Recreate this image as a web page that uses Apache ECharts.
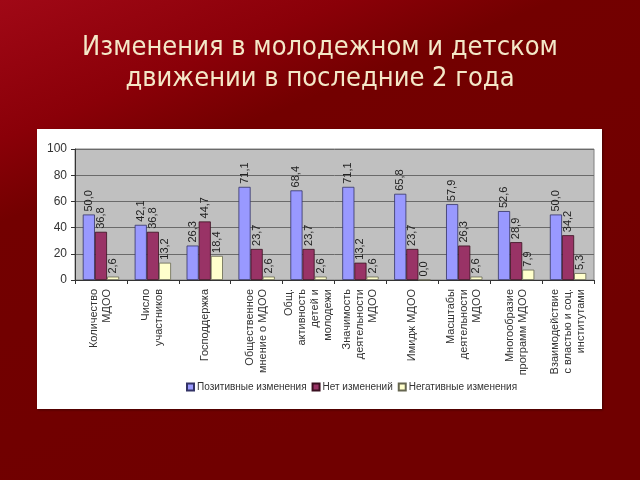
<!DOCTYPE html>
<html><head><meta charset="utf-8">
<script src="https://cdn.jsdelivr.net/npm/echarts@6/dist/echarts.min.js"></script>
<style>html,body{margin:0;padding:0;background:#700000}#c{width:640px;height:480px}</style>
</head><body><div id="c"></div>
<script>
const categories = [
  'Количество\nМДОО',
  'Число\nучастников',
  'Господдержка',
  'Общественное\nмнение о МДОО',
  'Общ.\nактивность\nдетей и\nмолодежи',
  'Значимость\nдеятельности\nМДОО',
  'Имидж МДОО',
  'Масштабы\nдеятельности\nМДОО',
  'Многообразие\nпрограмм МДОО',
  'Взаимодействие\nс властью и соц.\nинститутами'
];
const seriesNames = ['Позитивные изменения', 'Нет изменений', 'Негативные изменения'];
const positive = [50.0, 42.1, 26.3, 71.1, 68.4, 71.1, 65.8, 57.9, 52.6, 50.0];
const noChange = [36.8, 36.8, 44.7, 23.7, 23.7, 13.2, 23.7, 26.3, 28.9, 34.2];
const negative = [2.6, 13.2, 18.4, 2.6, 2.6, 2.6, 0.0, 2.6, 7.9, 5.3];
const yTicks = [0, 20, 40, 60, 80, 100];

const colors = ['#9999ff', '#993366', '#ffffcc'];
const borders = ['#333366', '#3a1020', '#666650'];
const font = 'Liberation Sans, Arial, sans-serif';

function mk(name, data, i) {
  return {
    name: name, type: 'bar', data: data,
    barGap: '0%', barCategoryGap: '30%',
    itemStyle: { color: colors[i], borderColor: borders[i], borderWidth: 0.8 },
    label: {
      show: true, position: 'top', rotate: 90, align: 'left', verticalAlign: 'middle',
      distance: 3, fontSize: 11, color: '#222', fontFamily: font,
      formatter: p => p.value.toFixed(1).replace('.', ',')
    }
  };
}

const chart = echarts.init(document.getElementById('c'), null, { renderer: 'canvas' });
chart.setOption({
  animation: false,
  backgroundColor: {
    type: 'linear', x: 0, y: 0, x2: 0.3, y2: 1,
    colorStops: [
      { offset: 0, color: '#a00816' },
      { offset: 0.25, color: '#8a0008' },
      { offset: 0.4, color: '#730000' },
      { offset: 1, color: '#700000' }
    ]
  },
  graphic: [{
    type: 'rect', z: -10,
    shape: { x: 37, y: 129, width: 565, height: 280 },
    style: { fill: '#ffffff', shadowColor: 'rgba(0,0,0,0.4)', shadowBlur: 2, shadowOffsetX: 1, shadowOffsetY: 1 }
  }],
  title: {
    text: 'Изменения в молодежном и детском\nдвижении в последние 2 года',
    left: 'center', top: 27,
    textStyle: { color: '#f4e8c8', fontSize: 27, fontWeight: 'normal', lineHeight: 31, fontFamily: 'DejaVu Sans Condensed, DejaVu Sans, sans-serif', align: 'center' }
  },
  legend: {
    data: seriesNames, bottom: 83, left: 181,
    itemWidth: 7, itemHeight: 7, itemGap: 5,
    icon: 'rect',
    textStyle: { fontSize: 10, color: '#333', fontFamily: font, padding: [0, 0, 0, -2] }
  },
  grid: { left: 75, right: 46, top: 149, bottom: 200, show: true, backgroundColor: '#c0c0c0', borderColor: '#808080', borderWidth: 1 },
  xAxis: {
    type: 'category', data: categories,
    axisLine: { lineStyle: { color: '#333' } },
    axisTick: { show: true, length: 4, lineStyle: { color: '#333' } },
    axisLabel: { interval: 0, rotate: 90, fontSize: 11, lineHeight: 13, color: '#333', fontFamily: font, margin: 9 }
  },
  yAxis: {
    type: 'value', min: yTicks[0], max: yTicks[yTicks.length - 1], interval: 20,
    axisLine: { show: true, lineStyle: { color: '#333' } },
    axisTick: { show: true, length: 4, lineStyle: { color: '#333' } },
    axisLabel: { fontSize: 12, color: '#333', fontFamily: font, margin: 8 },
    splitLine: { lineStyle: { color: '#6a6a6a', width: 1 } }
  },
  series: [mk(seriesNames[0], positive, 0), mk(seriesNames[1], noChange, 1), mk(seriesNames[2], negative, 2)]
});
</script></body></html>
